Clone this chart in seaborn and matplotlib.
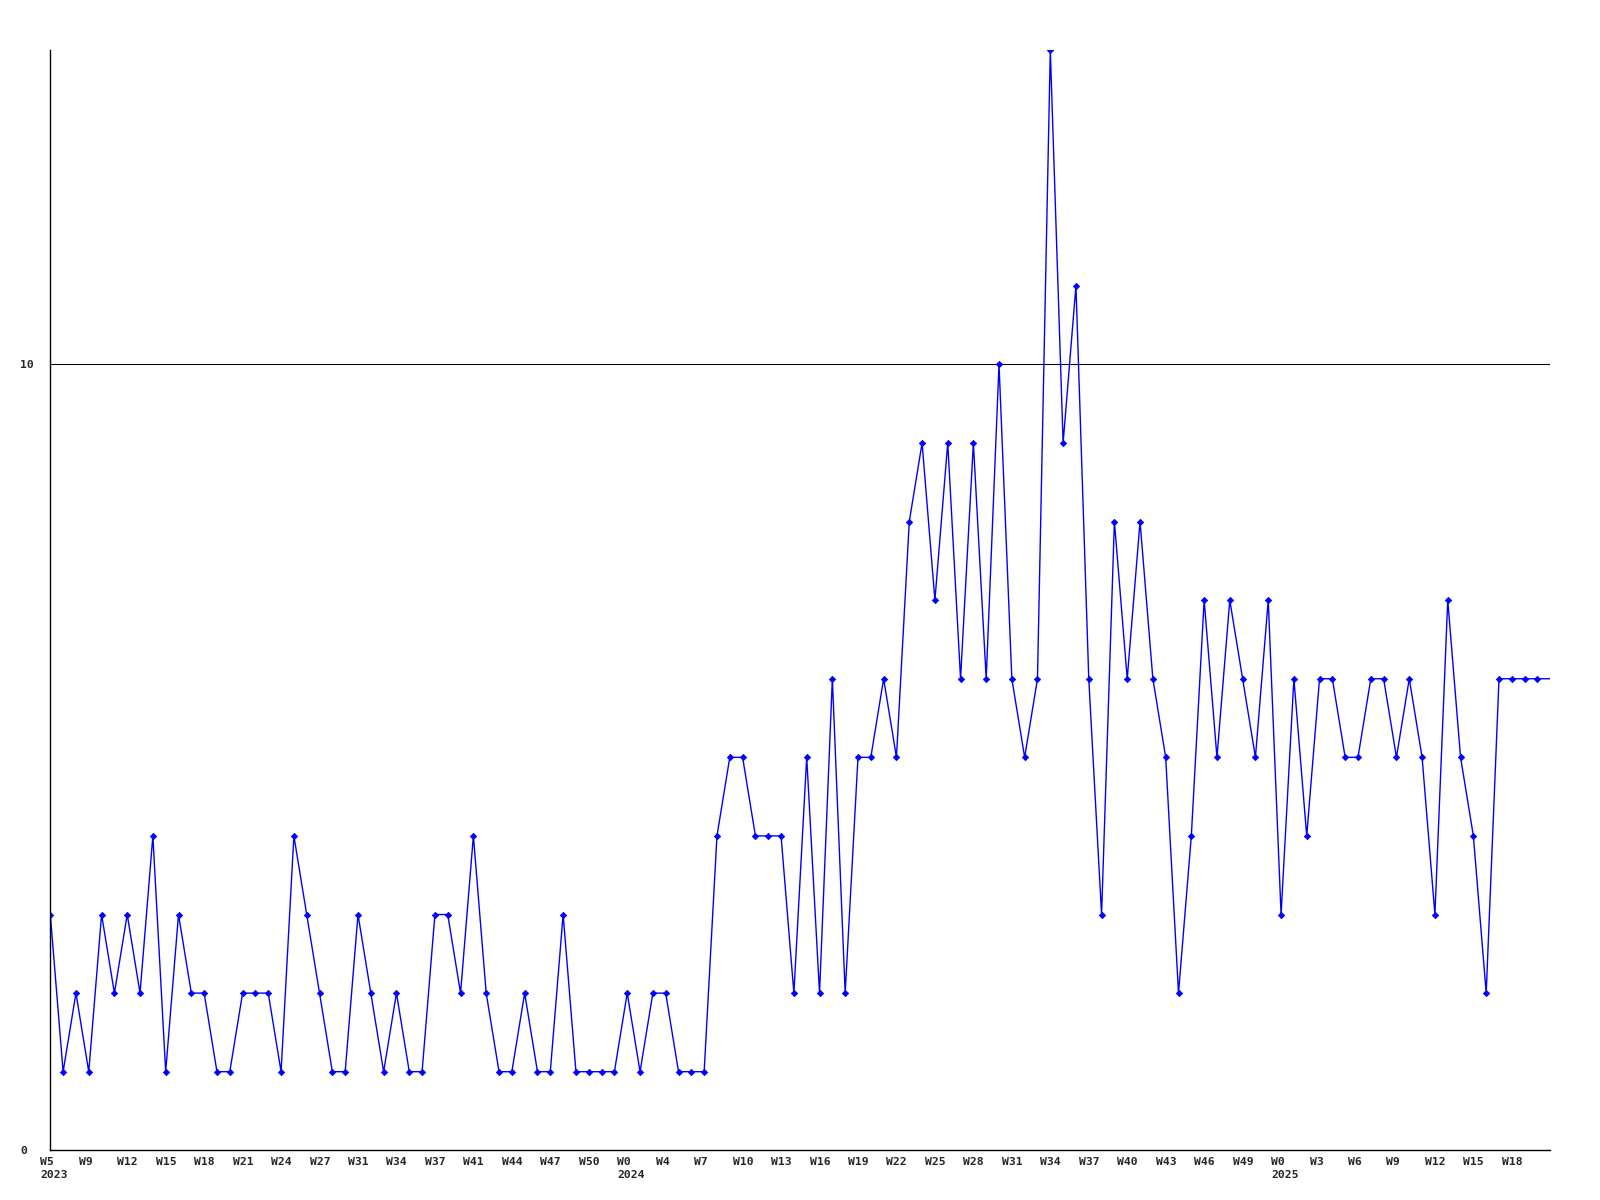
import numpy as np
import pandas as pd
import matplotlib
matplotlib.use("Agg")
import matplotlib.pyplot as plt
import matplotlib.transforms as mtransforms
import seaborn as sns

# ---- data ----
values = [3, 1, 2, 1, 3, 2, 3, 2, 4, 1,
          3, 2, 2, 1, 1, 2, 2, 2, 1, 4,
          3, 2, 1, 1, 3, 2, 1, 2, 1, 1,
          3, 3, 2, 4, 2, 1, 1, 2, 1, 1,
          3, 1, 1, 1, 1, 2, 1, 2, 2, 1,
          1, 1, 4, 5, 5, 4, 4, 4, 2, 5,
          2, 6, 2, 5, 5, 6, 5, 8, 9, 7,
          9, 6, 9, 6, 10, 6, 5, 6, 14, 9,
          11, 6, 3, 8, 6, 8, 6, 5, 2, 4,
          7, 5, 7, 6, 5, 7, 3, 6, 4, 6,
          6, 5, 5, 6, 6, 5, 6, 5, 3, 7,
          5, 4, 2, 6, 6, 6, 6, 6]
week_labels = ["W5\n2023", "W9", "W12", "W15", "W18", "W21", "W24", "W27",
               "W31", "W34", "W37", "W41", "W44", "W47", "W50", "W0\n2024",
               "W4", "W7", "W10", "W13", "W16", "W19", "W22", "W25", "W28",
               "W31", "W34", "W37", "W40", "W43", "W46", "W49", "W0\n2025",
               "W3", "W6", "W9", "W12", "W15", "W18"]
label_step = 3
y_ticks = [0, 10]

df = pd.DataFrame({"idx": np.arange(len(values)), "value": values})

sns.set_style("white")
plt.rcParams["font.family"] = ["DejaVu Sans Mono", "DejaVu Sans"]
plt.rcParams["font.weight"] = "bold"

fig = plt.figure(figsize=(16, 12), dpi=100)
ax = fig.add_axes([50.3 / 1600, 1 - 1150.3 / 1200,
                   (1550.3 - 50.3) / 1600, (1150.3 - 50) / 1200])

n_marked = len(values) - 1
sns.lineplot(data=df, x="idx", y="value", ax=ax, color="#0000FF",
             linewidth=1.0, marker="D", markersize=3.2,
             markeredgewidth=0.6, markeredgecolor="#0000FF",
             markevery=list(range(n_marked)), sort=False, clip_on=True)

ax.set_xlim(0, len(values) - 1)
ax.set_ylim(0, 14)

# y axis
ax.set_yticks(y_ticks)
ax.set_yticklabels([str(v) for v in y_ticks], fontsize=8.2,
                   fontweight="bold", ha="left")
ax.tick_params(axis="y", length=0, pad=21.7)
ax.yaxis.grid(True, color="black", linewidth=0.75)
ax.xaxis.grid(False)
ax.set_axisbelow(True)

# x axis
xt = list(range(0, len(week_labels) * label_step, label_step))
ax.set_xticks(xt)
ax.set_xticklabels(week_labels, fontsize=8.2, fontweight="bold",
                   ha="left", multialignment="left", linespacing=1.45)
ax.tick_params(axis="x", length=0, pad=4.5)
offset = mtransforms.ScaledTranslation(-10 / 100, 0, fig.dpi_scale_trans)
for lbl in ax.get_xticklabels():
    lbl.set_transform(lbl.get_transform() + offset)

ax.set_xlabel("")
ax.set_ylabel("")

for side in ["top", "right"]:
    ax.spines[side].set_visible(False)
for side in ["left", "bottom"]:
    ax.spines[side].set_color("black")
    ax.spines[side].set_linewidth(1.0)

fig.savefig("out.png", dpi=100, facecolor="white")
